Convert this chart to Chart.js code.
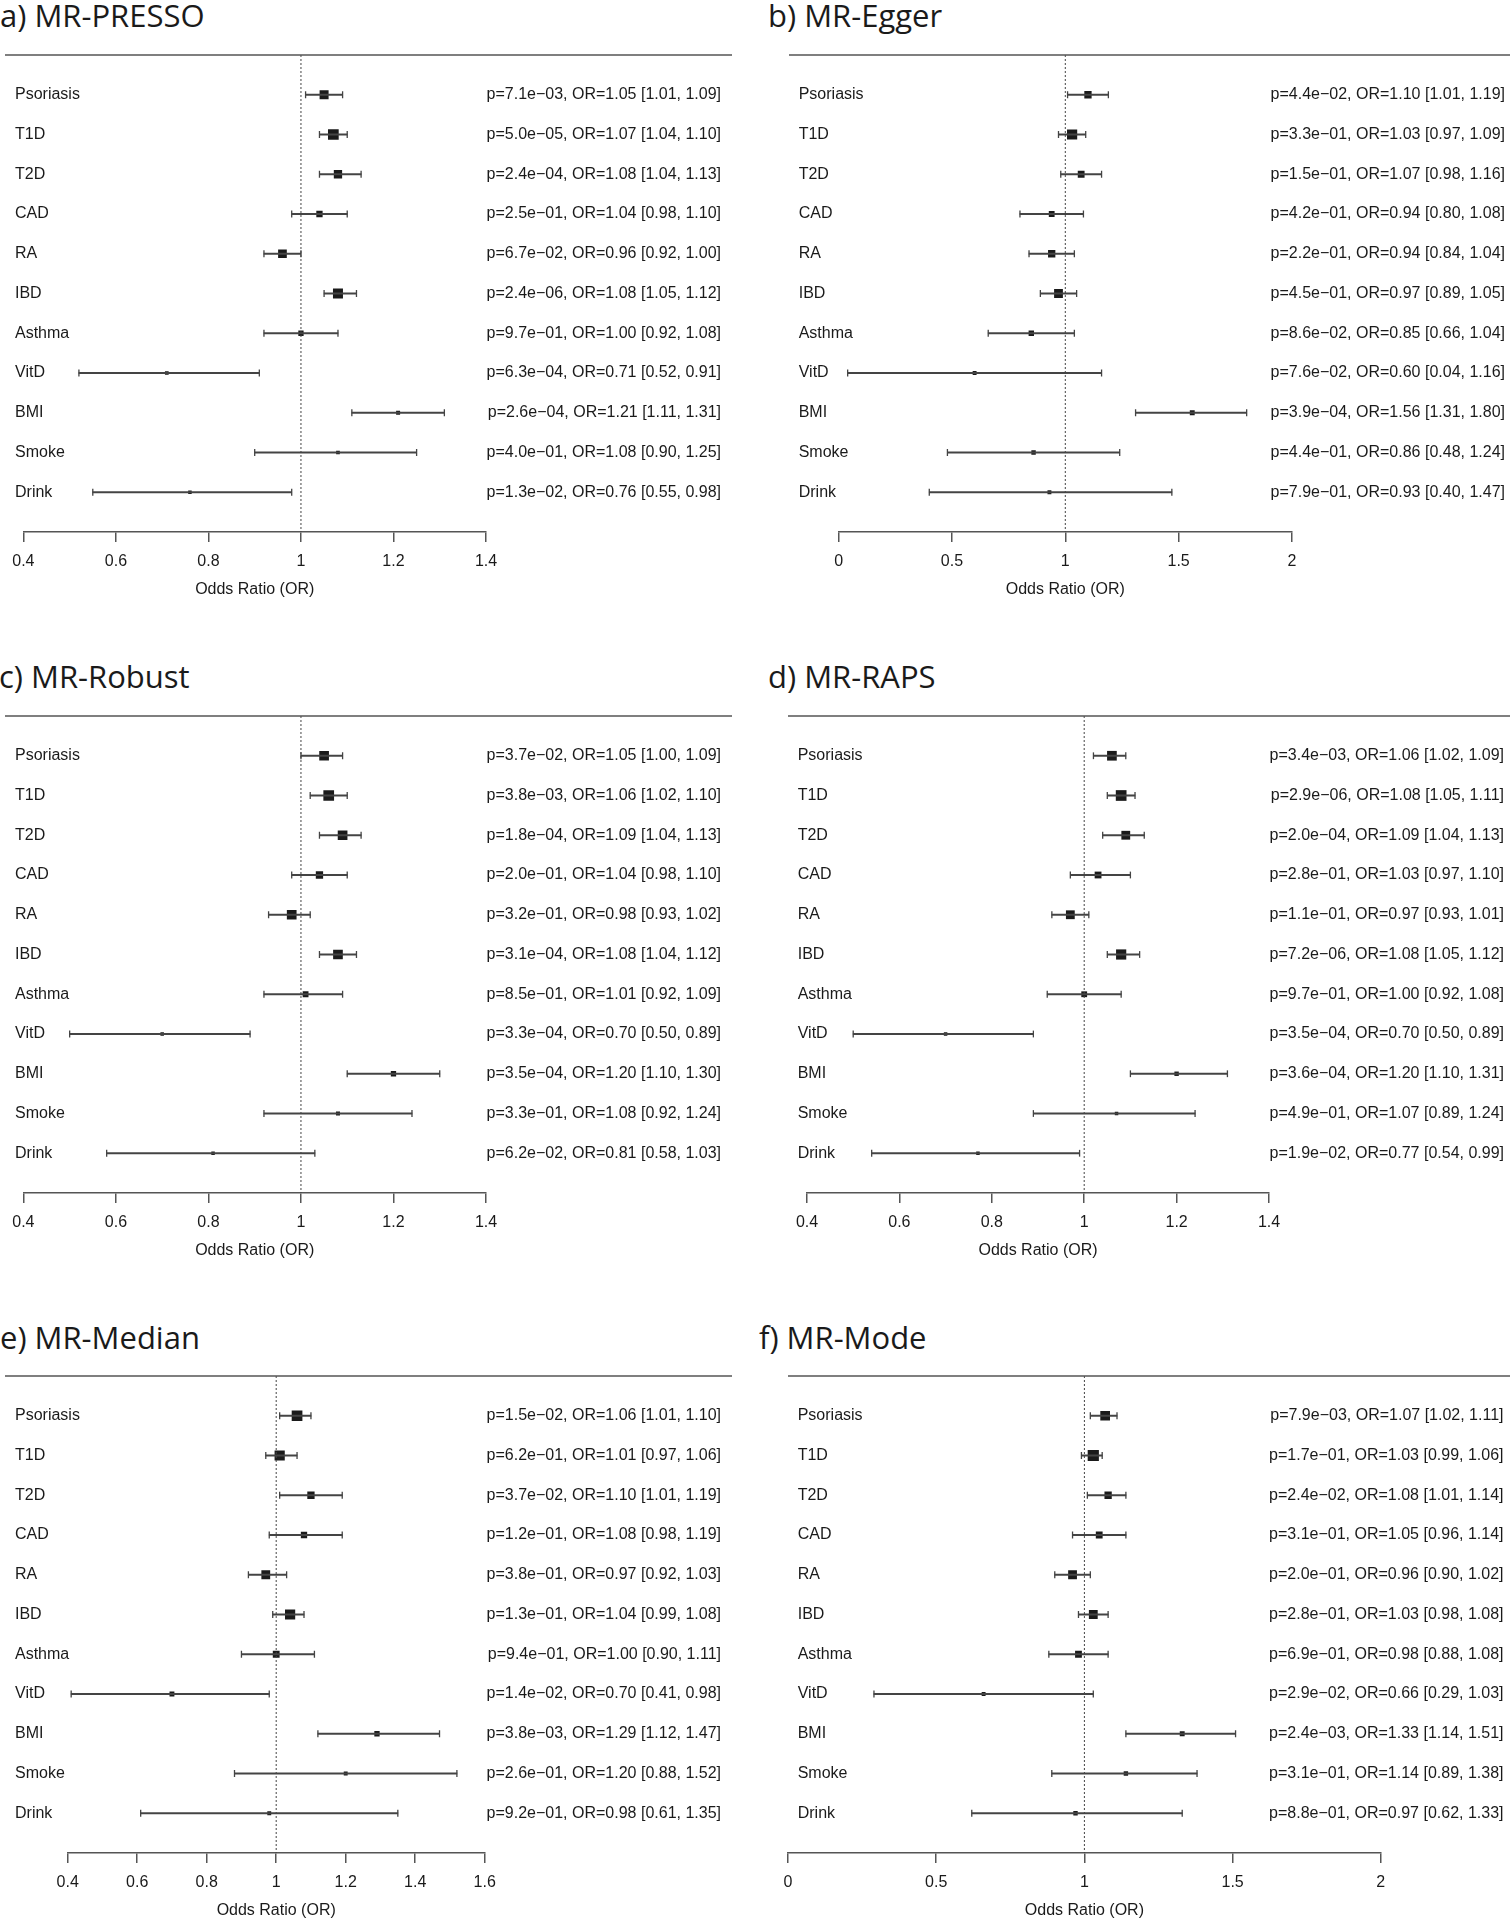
<!DOCTYPE html>
<html>
<head>
<meta charset="utf-8">
<title>MR forest plots</title>
<script src="https://cdn.jsdelivr.net/npm/chart.js@4.4.1/dist/chart.umd.min.js"></script>
<style>
    html, body { margin: 0; padding: 0; background: #fff; overflow: hidden; }
    body { width: 1510px; height: 1920px; position: relative; }
    .panel-title {
        position: absolute;
        font-family: 'Open Sans', sans-serif;
        font-size: 31px;
        line-height: 31px;
        color: #1a1a1a;
        white-space: nowrap;
    }
    canvas { position: absolute; }
</style>
</head>
<body>
<script>
var categories = ['Psoriasis', 'T1D', 'T2D', 'CAD', 'RA', 'IBD', 'Asthma', 'VitD', 'BMI', 'Smoke', 'Drink'];

// x axis ticks
var ticksNarrow = [0.4, 0.6, 0.8, 1, 1.2, 1.4];
var tickLabelsNarrow = ['0.4', '0.6', '0.8', '1', '1.2', '1.4'];
var ticksWide = [0, 0.5, 1, 1.5, 2];
var tickLabelsWide = ['0', '0.5', '1', '1.5', '2'];
var ticksMedian = [0.4, 0.6, 0.8, 1, 1.2, 1.4, 1.6];
var tickLabelsMedian = ['0.4', '0.6', '0.8', '1', '1.2', '1.4', '1.6'];

// a) MR-PRESSO
var pressoOR = [1.05, 1.07, 1.08, 1.04, 0.96, 1.08, 1.00, 0.71, 1.21, 1.08, 0.76];
var pressoLo = [1.01, 1.04, 1.04, 0.98, 0.92, 1.05, 0.92, 0.52, 1.11, 0.90, 0.55];
var pressoHi = [1.09, 1.10, 1.13, 1.10, 1.00, 1.12, 1.08, 0.91, 1.31, 1.25, 0.98];
var pressoP = [7.1e-03, 5.0e-05, 2.4e-04, 2.5e-01, 6.7e-02, 2.4e-06, 9.7e-01, 6.3e-04, 2.6e-04, 4.0e-01, 1.3e-02];
var pressoWt = [9, 10.7, 8.3, 6.3, 8.7, 10, 5.3, 3.7, 4, 3.7, 3.5];

// b) MR-Egger
var eggerOR = [1.10, 1.03, 1.07, 0.94, 0.94, 0.97, 0.85, 0.60, 1.56, 0.86, 0.93];
var eggerLo = [1.01, 0.97, 0.98, 0.80, 0.84, 0.89, 0.66, 0.04, 1.31, 0.48, 0.40];
var eggerHi = [1.19, 1.09, 1.16, 1.08, 1.04, 1.05, 1.04, 1.16, 1.80, 1.24, 1.47];
var eggerP = [4.4e-02, 3.3e-01, 1.5e-01, 4.2e-01, 2.2e-01, 4.5e-01, 8.6e-02, 7.6e-02, 3.9e-04, 4.4e-01, 7.9e-01];
var eggerWt = [7.3, 10.2, 6.8, 5.8, 7.3, 8.8, 5.4, 3.9, 4.9, 4.4, 3.9];

// c) MR-Robust
var robustOR = [1.05, 1.06, 1.09, 1.04, 0.98, 1.08, 1.01, 0.70, 1.20, 1.08, 0.81];
var robustLo = [1.00, 1.02, 1.04, 0.98, 0.93, 1.04, 0.92, 0.50, 1.10, 0.92, 0.58];
var robustHi = [1.09, 1.10, 1.13, 1.10, 1.02, 1.12, 1.09, 0.89, 1.30, 1.24, 1.03];
var robustP = [3.7e-02, 3.8e-03, 1.8e-04, 2.0e-01, 3.2e-01, 3.1e-04, 8.5e-01, 3.3e-04, 3.5e-04, 3.3e-01, 6.2e-02];
var robustWt = [9.7, 10.7, 9.7, 7.3, 9.7, 9.7, 5.8, 3.5, 5.3, 4, 3.5];

// d) MR-RAPS
var rapsOR = [1.06, 1.08, 1.09, 1.03, 0.97, 1.08, 1.00, 0.70, 1.20, 1.07, 0.77];
var rapsLo = [1.02, 1.05, 1.04, 0.97, 0.93, 1.05, 0.92, 0.50, 1.10, 0.89, 0.54];
var rapsHi = [1.09, 1.11, 1.13, 1.10, 1.01, 1.12, 1.08, 0.89, 1.31, 1.24, 0.99];
var rapsP = [3.4e-03, 2.9e-06, 2.0e-04, 2.8e-01, 1.1e-01, 7.2e-06, 9.7e-01, 3.5e-04, 3.6e-04, 4.9e-01, 1.9e-02];
var rapsWt = [9.7, 10.7, 8.8, 6.8, 8.8, 10.2, 5.8, 3.5, 4.4, 3.5, 3.5];

// e) MR-Median
var medianOR = [1.06, 1.01, 1.10, 1.08, 0.97, 1.04, 1.00, 0.70, 1.29, 1.20, 0.98];
var medianLo = [1.01, 0.97, 1.01, 0.98, 0.92, 0.99, 0.90, 0.41, 1.12, 0.88, 0.61];
var medianHi = [1.10, 1.06, 1.19, 1.19, 1.03, 1.08, 1.11, 0.98, 1.47, 1.52, 1.35];
var medianP = [1.5e-02, 6.2e-01, 3.7e-02, 1.2e-01, 3.8e-01, 1.3e-01, 9.4e-01, 1.4e-02, 3.8e-03, 2.6e-01, 9.2e-01];
var medianWt = [10.7, 10.2, 7.3, 6.3, 8.8, 10.2, 6.8, 4.9, 5.3, 3.9, 3.9];

// f) MR-Mode
var modeOR = [1.07, 1.03, 1.08, 1.05, 0.96, 1.03, 0.98, 0.66, 1.33, 1.14, 0.97];
var modeLo = [1.02, 0.99, 1.01, 0.96, 0.90, 0.98, 0.88, 0.29, 1.14, 0.89, 0.62];
var modeHi = [1.11, 1.06, 1.14, 1.14, 1.02, 1.08, 1.08, 1.03, 1.51, 1.38, 1.33];
var modeP = [7.9e-03, 1.7e-01, 2.4e-02, 3.1e-01, 2.0e-01, 2.8e-01, 6.9e-01, 2.9e-02, 2.4e-03, 3.1e-01, 8.8e-01];
var modeWt = [9.7, 11.2, 7.3, 6.8, 8.8, 8.8, 6.8, 3.9, 4.9, 4.4, 4.4];

Chart.defaults.font.family = "'Liberation Sans', Arial, sans-serif";
Chart.defaults.font.size = 16;
Chart.defaults.color = '#1a1a1a';

var INK = '#1a1a1a', LINE = '#444';
var CANVAS_W = 740, CANVAS_H = 560, TOP_PAD = 14, PLOT_H = 477;
var ruleTops = [54.5, 715.5, 1376];

// layout of each panel (page pixels)
var panels = [
    {title: 'a) MR-PRESSO', titleX: 0, row: 0, left: 0, x0: 23.4, x1: 486, labelX: 15, textRight: 721, ruleX0: 5, ruleX1: 732,
        or: pressoOR, lo: pressoLo, hi: pressoHi, p: pressoP, wt: pressoWt, ticks: ticksNarrow, tickLabels: tickLabelsNarrow},
    {title: 'b) MR-Egger', titleX: 768, row: 0, left: 770, x0: 838.6, x1: 1292, labelX: 798.7, textRight: 1505, ruleX0: 789, ruleX1: 1512,
        or: eggerOR, lo: eggerLo, hi: eggerHi, p: eggerP, wt: eggerWt, ticks: ticksWide, tickLabels: tickLabelsWide},
    {title: 'c) MR-Robust', titleX: -1, row: 1, left: 0, x0: 23.4, x1: 486, labelX: 15, textRight: 721, ruleX0: 5, ruleX1: 732,
        or: robustOR, lo: robustLo, hi: robustHi, p: robustP, wt: robustWt, ticks: ticksNarrow, tickLabels: tickLabelsNarrow},
    {title: 'd) MR-RAPS', titleX: 768, row: 1, left: 770, x0: 807, x1: 1269, labelX: 797.7, textRight: 1504, ruleX0: 788, ruleX1: 1512,
        or: rapsOR, lo: rapsLo, hi: rapsHi, p: rapsP, wt: rapsWt, ticks: ticksNarrow, tickLabels: tickLabelsNarrow},
    {title: 'e) MR-Median', titleX: 0, row: 2, left: 0, x0: 67.7, x1: 484.7, labelX: 15, textRight: 721, ruleX0: 5, ruleX1: 732,
        or: medianOR, lo: medianLo, hi: medianHi, p: medianP, wt: medianWt, ticks: ticksMedian, tickLabels: tickLabelsMedian},
    {title: 'f) MR-Mode', titleX: 759, row: 2, left: 770, x0: 788, x1: 1380.8, labelX: 797.7, textRight: 1503.5, ruleX0: 788, ruleX1: 1512,
        or: modeOR, lo: modeLo, hi: modeHi, p: modeP, wt: modeWt, ticks: ticksWide, tickLabels: tickLabelsWide}
];

function fmtP(p) {
    var parts = p.toExponential(1).split('e'),
        exp = parseInt(parts[1], 10),
        a = Math.abs(exp);
    return 'p=' + parts[0] + 'e' + (exp < 0 ? '\u2212' : '+') + (a < 10 ? '0' : '') + a;
}

// horizontal rule under the title, wider than the plot area
var headerRule = {
    id: 'headerRule',
    afterDraw: function(chart, args, opts) {
        var ctx = chart.ctx, y = chart.chartArea.top;
        ctx.save();
        ctx.strokeStyle = opts.color;
        ctx.lineWidth = opts.width;
        ctx.beginPath();
        ctx.moveTo(opts.x0, y);
        ctx.lineTo(opts.x1, y);
        ctx.stroke();
        ctx.restore();
    }
};

// label axes take no room and add no layout padding
var flatAxis = function(scale) {
    scale.width = 0;
    scale.paddingTop = 0;
    scale.paddingBottom = 0;
};

panels.forEach(function(pn) {
    var ruleY = ruleTops[pn.row],
        top = ruleY - TOP_PAD,
        rows = categories.map(function(c, i) { return i; }),
        notes = rows.map(function(i) {
            return fmtP(pn.p[i]) + ', OR=' + pn.or[i].toFixed(2) +
                ' [' + pn.lo[i].toFixed(2) + ', ' + pn.hi[i].toFixed(2) + ']';
        });

    var title = document.createElement('div');
    title.className = 'panel-title';
    title.textContent = pn.title;
    title.style.left = pn.titleX + 'px';
    title.style.top = (ruleY - 54.5) + 'px';
    document.body.appendChild(title);

    var canvas = document.createElement('canvas');
    canvas.width = CANVAS_W;
    canvas.height = CANVAS_H;
    canvas.style.left = pn.left + 'px';
    canvas.style.top = top + 'px';
    document.body.appendChild(canvas);

    var rowTicks = function(scale) {
        scale.ticks = rows.map(function(i) { return {value: i}; });
    };

    new Chart(canvas, {
        type: 'scatter',
        data: {
            datasets: [{
                // reference line at OR = 1
                data: [{x: 1, y: -1}, {x: 1, y: 11}],
                showLine: true,
                borderColor: LINE,
                borderWidth: 1,
                borderDash: [2, 2],
                pointRadius: 0,
                yAxisID: 'y'
            }, {
                type: 'bar',
                indexAxis: 'y',
                data: rows.map(function(i) { return {y: i, x: [pn.lo[i], pn.hi[i]]}; }),
                barThickness: 1.4,
                backgroundColor: LINE,
                borderWidth: 0,
                yAxisID: 'y'
            }, {
                // whisker caps
                data: rows.reduce(function(acc, i) {
                    return acc.concat([{x: pn.lo[i], y: i}, {x: pn.hi[i], y: i}]);
                }, []),
                pointStyle: 'line',
                pointRotation: 90,
                pointRadius: 3.4,
                pointBorderWidth: 1.3,
                pointBorderColor: LINE,
                yAxisID: 'y'
            }, {
                data: rows.map(function(i) { return {x: pn.or[i], y: i}; }),
                pointStyle: 'rect',
                pointRadius: pn.wt.map(function(w) { return w / Math.SQRT2; }),
                pointBorderWidth: 0,
                pointBackgroundColor: INK,
                yAxisID: 'y'
            }]
        },
        options: {
            responsive: false,
            animation: false,
            events: [],
            layout: {
                padding: {
                    left: pn.x0 - pn.left,
                    right: pn.left + CANVAS_W - pn.x1,
                    top: TOP_PAD,
                    bottom: 0
                }
            },
            plugins: {
                legend: {display: false},
                tooltip: {enabled: false},
                headerRule: {x0: pn.ruleX0 - pn.left, x1: pn.ruleX1 - pn.left, color: '#555', width: 1.5}
            },
            scales: {
                x: {
                    type: 'linear',
                    min: pn.ticks[0],
                    max: pn.ticks[pn.ticks.length - 1],
                    afterBuildTicks: function(scale) {
                        scale.ticks = pn.ticks.map(function(v) { return {value: v}; });
                    },
                    afterFit: function(scale) {
                        scale.height = CANVAS_H - TOP_PAD - PLOT_H;
                        scale.paddingLeft = 0;
                        scale.paddingRight = 0;
                    },
                    ticks: {
                        autoSkip: false,
                        maxRotation: 0,
                        padding: 10,
                        callback: function(v, i) { return pn.tickLabels[i]; }
                    },
                    grid: {drawOnChartArea: false, drawTicks: true, tickLength: 10, color: '#555', lineWidth: 1.5},
                    border: {display: true, color: '#555', width: 1.5},
                    title: {display: true, text: 'Odds Ratio (OR)', padding: {top: 0, bottom: 1.4}}
                },
                y: {
                    type: 'linear',
                    position: 'left',
                    reverse: true,
                    offset: false,
                    min: -1,
                    max: 11,
                    afterBuildTicks: rowTicks,
                    afterFit: flatAxis,
                    ticks: {
                        mirror: true,
                        crossAlign: 'near',
                        padding: pn.labelX - pn.x0,
                        autoSkip: false,
                        callback: function(v) { return categories[v]; }
                    },
                    grid: {display: false},
                    border: {display: false}
                },
                y2: {
                    type: 'linear',
                    position: 'right',
                    reverse: true,
                    offset: false,
                    min: -1,
                    max: 11,
                    afterBuildTicks: rowTicks,
                    afterFit: flatAxis,
                    ticks: {
                        mirror: true,
                        crossAlign: 'near',
                        padding: pn.textRight - pn.x1,
                        autoSkip: false,
                        callback: function(v) { return notes[v]; }
                    },
                    grid: {display: false},
                    border: {display: false}
                }
            }
        },
        plugins: [headerRule]
    });
});
</script>
</body>
</html>
